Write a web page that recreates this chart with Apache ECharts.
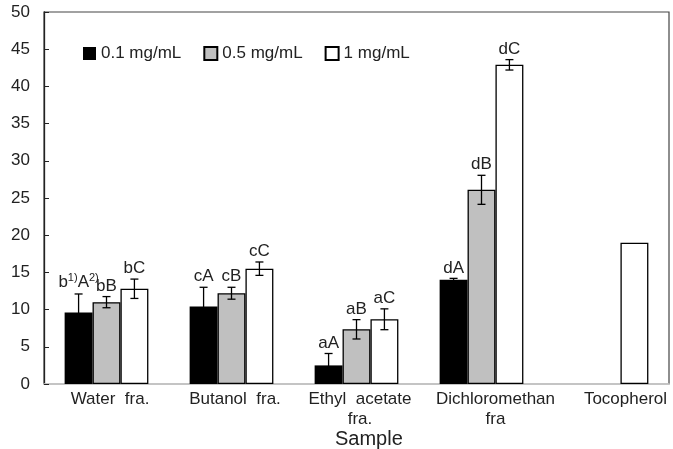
<!DOCTYPE html>
<html>
<head>
<meta charset="utf-8">
<script src="https://cdn.jsdelivr.net/npm/echarts@6/dist/echarts.min.js"></script>
<style>
html,body{margin:0;padding:0;background:#fff;}
#main{width:673px;height:449px;}
</style>
</head>
<body>
<div id="main"></div>
<script>
var categories = ['Water  fra.', 'Butanol  fra.', 'Ethyl  acetate\nfra.', 'Dichloromethan\nfra', 'Tocopherol'];
var labelShift = [7, 7, 7, 28, 38];
var seriesNames = ['0.1 mg/mL', '0.5 mg/mL', '1 mg/mL'];

var low = [9.6, 10.4, 2.5, 14.0, null];
var mid = [11.0, 12.2, 7.35, 26.1, null];
var high = [12.8, 15.5, 8.7, 42.9, 19.0];

var lowErr = [2.5, 2.6, 1.6, 0.2, null];
var midErr = [0.75, 0.8, 1.3, 1.95, null];
var highErr = [1.3, 0.9, 1.4, 0.7, null];

var lowLabels = ['{n|b}{s|1)}{n|A}{s|2)}', 'cA', 'aA', 'dA', ''];
var midLabels = ['bB', 'cB', 'aB', 'dB', ''];
var highLabels = ['bC', 'cC', 'aC', 'dC', ''];

var yTicks = [0, 5, 10, 15, 20, 25, 30, 35, 40, 45, 50];

var dom = document.getElementById('main');
var myChart = echarts.init(dom);

var values = [low, mid, high];
var errs = [lowErr, midErr, highErr];
var labels = [lowLabels, midLabels, highLabels];
var fills = ['#000000', '#c0c0c0', '#ffffff'];
var FONT = 'Liberation Sans';

// rows for the error bar / letter series: [category, seriesIndex, value, err]
var errData = [];
for (var s = 0; s < 3; s++) {
    for (var i = 0; i < categories.length; i++) {
        if (values[s][i] != null) {
            errData.push([i, s, values[s][i], errs[s][i] || 0, labels[s][i]]);
        }
    }
}

var catData = categories.map(function (c, i) {
    return { value: c, textStyle: { padding: [0, 0, 0, labelShift[i]] } };
});

function renderErr(params, api) {
    var cat = api.value(0);
    var s = api.value(1);
    var v = api.value(2);
    var e = api.value(3);
    var txt = errData[params.dataIndex][4];
    var band = api.size([1, 0])[0];
    var bw = band * 0.67 / 3;
    var center = api.coord([cat, v]);
    var x = center[0] + (s - 1) * bw;
    var top = api.coord([cat, v + e])[1];
    var bot = api.coord([cat, v - e])[1];
    var children = [];
    if (e > 0) {
        var st = { stroke: '#000', lineWidth: 1.3 };
        children.push({ type: 'line', shape: { x1: x, y1: top, x2: x, y2: bot }, style: st });
        children.push({ type: 'line', shape: { x1: x - 4, y1: top, x2: x + 4, y2: top }, style: st });
        children.push({ type: 'line', shape: { x1: x - 4, y1: bot, x2: x + 4, y2: bot }, style: st });
    }
    if (txt) {
        children.push({
            type: 'text',
            style: {
                x: x, y: top - 2,
                text: txt,
                align: 'center',
                verticalAlign: 'bottom',
                fill: '#222',
                font: '17px "Liberation Sans", Arial, sans-serif',
                rich: {
                    n: { fontSize: 17, fontFamily: FONT, fill: '#222' },
                    s: { fontSize: 11, fontFamily: FONT, fill: '#222', verticalAlign: 'top', padding: [0, 0, 9, 0] }
                }
            }
        });
    }
    return { type: 'group', children: children };
}

var barSeries = [];
for (var k = 0; k < 3; k++) {
    barSeries.push({
        name: seriesNames[k],
        type: 'bar',
        data: values[k],
        barGap: '0%',
        barCategoryGap: '33%',
        itemStyle: { color: fills[k], borderColor: '#000', borderWidth: k === 0 ? 0 : 1.3 },
        emphasis: { disabled: true }
    });
}

option = {
    animation: false,
    backgroundColor: '#fff',
    textStyle: { fontFamily: FONT },
    grid: {
        left: 44, right: 4, top: 12, bottom: 65,
        show: true, borderColor: '#444', borderWidth: 1.2, backgroundColor: 'transparent'
    },
    legend: {
        data: seriesNames,
        left: 78, top: 40,
        icon: 'rect',
        itemWidth: 13, itemHeight: 13,
        itemGap: 22,
        textStyle: { fontSize: 17, color: '#222', fontFamily: FONT }
    },
    xAxis: {
        type: 'category',
        data: catData,
        axisLine: { lineStyle: { color: '#cfcfcf', width: 1.5 } },
        axisTick: { inside: true, length: 4, lineStyle: { color: '#333' } },
        axisLabel: { fontSize: 17, color: '#222', margin: 5, lineHeight: 20, interval: 0, fontFamily: FONT },
        splitLine: { show: false }
    },
    yAxis: {
        type: 'value',
        min: 0, max: 50, interval: 5,
        axisLine: { show: true, lineStyle: { color: '#222', width: 1.3 } },
        axisTick: { show: true, inside: true, length: 5, lineStyle: { color: '#222' } },
        axisLabel: {
            fontSize: 17, color: '#222', margin: 14, fontFamily: FONT,
            formatter: function (v) { return yTicks.indexOf(v) >= 0 ? String(v) : ''; }
        },
        splitLine: { show: false }
    },
    graphic: [{
        type: 'text',
        left: 335, top: 429,
        style: { text: 'Sample', font: '20px "Liberation Sans", Arial, sans-serif', fill: '#222' }
    }],
    series: barSeries.concat([{
        type: 'custom',
        renderItem: renderErr,
        data: errData,
        encode: { x: 0, y: 2 },
        z: 10,
        silent: true
    }])
};

myChart.setOption(option);
</script>
</body>
</html>
